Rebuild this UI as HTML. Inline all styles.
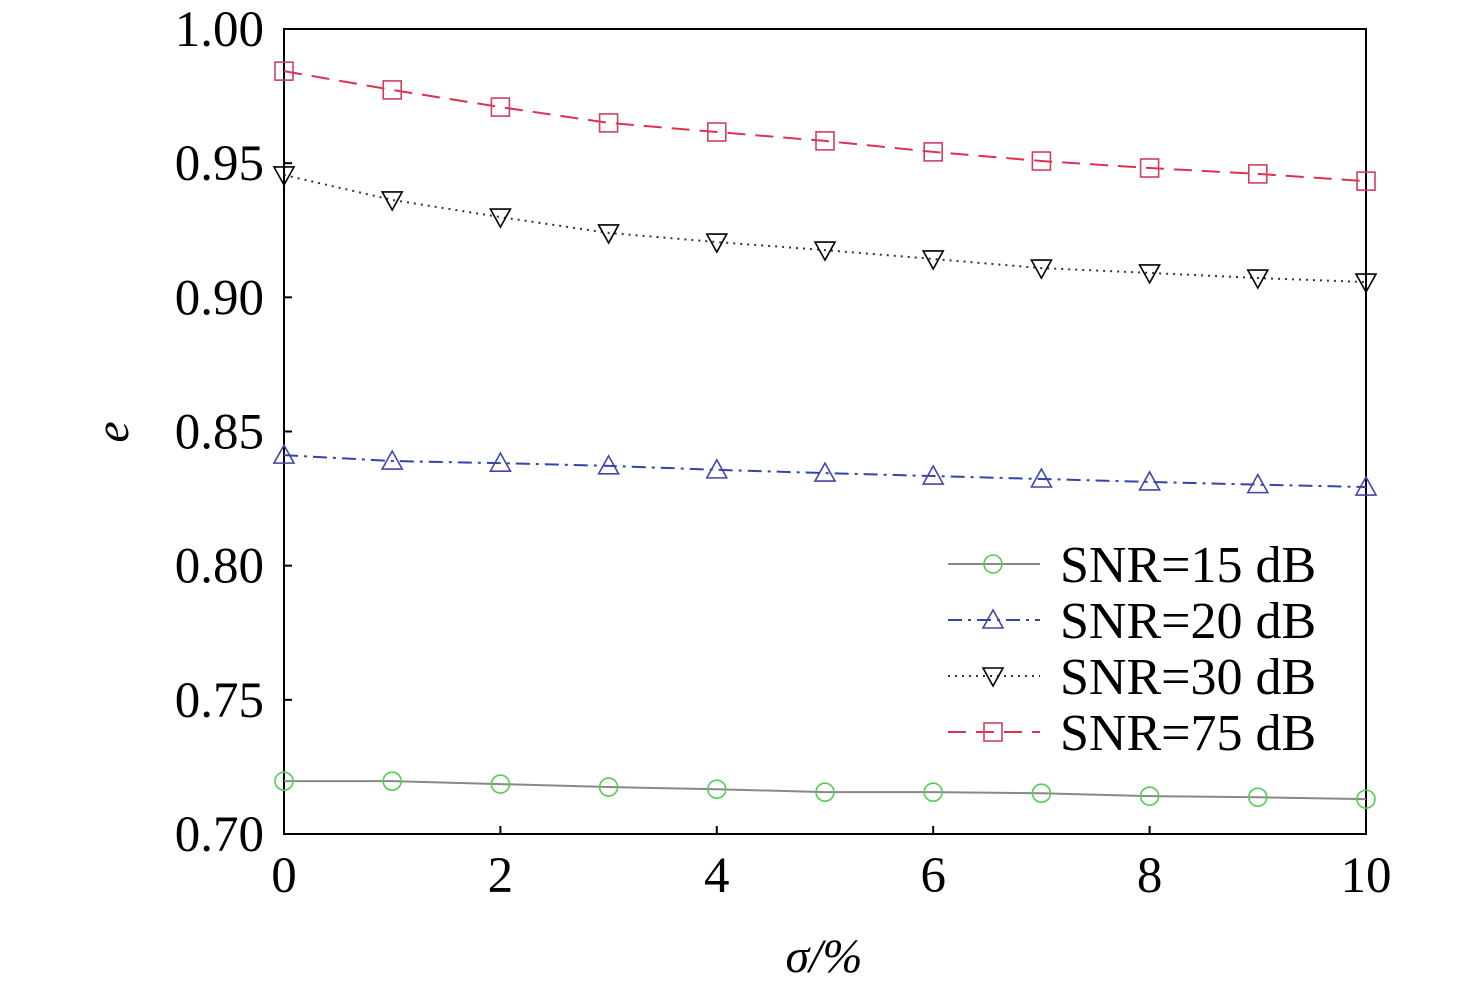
<!DOCTYPE html>
<html><head><meta charset="utf-8"><style>
html,body{margin:0;padding:0;background:#fff;}
svg{display:block;font-family:"Liberation Serif",serif;}
</style></head><body>
<svg id="chart" width="1476" height="989" viewBox="0 0 1476 989"></svg>
<script>
const xValues=[0,1,2,3,4,5,6,7,8,9,10];
const snr15=[0.7197,0.7197,0.7186,0.7175,0.7167,0.7156,0.7156,0.7152,0.7141,0.7137,0.7130];
const snr20=[0.8412,0.8390,0.8382,0.8372,0.8357,0.8345,0.8334,0.8323,0.8312,0.8302,0.8293];
const snr30=[0.9456,0.9363,0.9299,0.9240,0.9206,0.9176,0.9143,0.9109,0.9091,0.9072,0.9057];
const snr75=[0.9843,0.9773,0.9709,0.9650,0.9616,0.9583,0.9542,0.9508,0.9482,0.9460,0.9433];
const xTicks=[0,2,4,6,8,10];
const yTicks=[0.70,0.75,0.80,0.85,0.90,0.95,1.00];
const legendLabels=["SNR=15 dB","SNR=20 dB","SNR=30 dB","SNR=75 dB"];

const NS="http://www.w3.org/2000/svg";
const svg=document.getElementById('chart');
const L=284,R=1366,T=29,B=834;
const xs=v=>L+(v-0)/(10-0)*(R-L);
const ys=v=>B-(v-0.70)/(1.00-0.70)*(B-T);
function mk(tag,attrs,parent){const e=document.createElementNS(NS,tag);for(const k in attrs)e.setAttribute(k,attrs[k]);(parent||svg).appendChild(e);return e;}

const frame=mk('rect',{x:L,y:T,width:R-L,height:B-T,fill:'none',stroke:'#000','stroke-width':2});



xTicks.forEach(v=>{
  const t=mk('text',{x:xs(v),y:892,'font-size':51,'text-anchor':'middle'});t.textContent=v;
  
  
  mk('line',{x1:xs(v),x2:xs(v),y1:B,y2:B-8,stroke:'#000','stroke-width':2});
});
yTicks.forEach(v=>{
  const t=mk('text',{x:264,y:ys(v)+17,'font-size':51,'text-anchor':'end'});t.textContent=v.toFixed(2);
  
  
  mk('line',{x1:L,x2:L+8,y1:ys(v),y2:ys(v),stroke:'#000','stroke-width':2});
});
const xt=mk('text',{x:824,y:972,'font-size':48,'text-anchor':'middle','font-style':'italic'});xt.textContent='σ/%';


const yt=mk('text',{x:0,y:0,'font-size':48,'text-anchor':'middle','font-style':'italic',transform:'translate(128,432) rotate(-90)'});yt.textContent='e';



const series=[
 {d:snr15,stroke:'#888',dash:'',marker:'circle',mc:'#5c5',name:'series-snr15'},
 {d:snr20,stroke:'#3344aa',dash:'14 6 3 6',marker:'up',mc:'#4444aa',name:'series-snr20'},
 {d:snr30,stroke:'#333',dash:'2 5',marker:'down',mc:'#000',name:'series-snr30'},
 {d:snr75,stroke:'#e03050',dash:'18 10',marker:'square',mc:'#d04060',name:'series-snr75'}
];
function marker(type,cx,cy,color,g){
  const r=10;
  if(type==='circle') return mk('circle',{cx,cy,r:9,fill:'none',stroke:color,'stroke-width':1.6},g);
  if(type==='square') return mk('rect',{x:cx-9,y:cy-9,width:18,height:18,fill:'none',stroke:color,'stroke-width':1.6},g);
  if(type==='up') return mk('polygon',{points:`${cx},${cy-r} ${cx-r},${cy+8} ${cx+r},${cy+8}`,fill:'none',stroke:color,'stroke-width':1.6},g);
  return mk('polygon',{points:`${cx-r},${cy-8} ${cx+r},${cy-8} ${cx},${cy+r}`,fill:'none',stroke:color,'stroke-width':1.6},g);
}
series.forEach(s=>{
  const g=mk('g',{});
  
  
  const pts=s.d.map((v,i)=>xs(xValues[i])+','+ys(v)).join(' ');
  const pl=mk('polyline',{points:pts,fill:'none',stroke:s.stroke,'stroke-width':2,'stroke-dasharray':s.dash},g);
  
  
  s.d.forEach((v,i)=>{
    const m=marker(s.marker,xs(xValues[i]),ys(v),s.mc,g);
    
    
  });
});
const lg=mk('g',{});


series.forEach((s,i)=>{
  const y=564+i*56;
  const e=mk('g',{},lg);
  
  
  mk('line',{x1:948,x2:1040,y1:y,y2:y,stroke:s.stroke,'stroke-width':2,'stroke-dasharray':s.dash},e);
  marker(s.marker,993,y,s.mc,e);
  const t=mk('text',{x:1060,y:y+18,'font-size':52},e);t.textContent=legendLabels[i];
});
</script>
</body></html>
